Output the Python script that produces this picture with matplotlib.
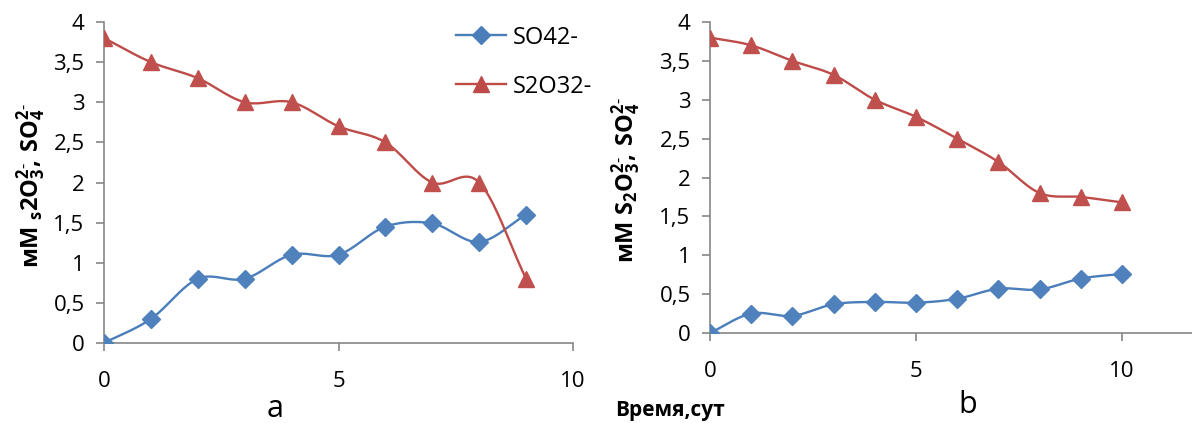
import numpy as np
import matplotlib
matplotlib.use("Agg")
import matplotlib.pyplot as plt

# время, сут
days_a = [0, 1, 2, 3, 4, 5, 6, 7, 8, 9]
days_b = [0, 1, 2, 3, 4, 5, 6, 7, 8, 9, 10]

# концентрации, мМ
so4_a = [0.0, 0.3, 0.8, 0.8, 1.1, 1.1, 1.45, 1.49, 1.26, 1.6]
s2o3_a = [3.8, 3.5, 3.3, 3.0, 3.0, 2.7, 2.5, 2.0, 2.0, 0.8]
so4_b = [0.0, 0.25, 0.22, 0.37, 0.4, 0.39, 0.44, 0.57, 0.56, 0.7, 0.76]
s2o3_b = [3.8, 3.7, 3.5, 3.32, 3.0, 2.78, 2.5, 2.2, 1.8, 1.75, 1.68]

series_names = ["SO42-", "S2O32-"]
yticks = [0, 0.5, 1, 1.5, 2, 2.5, 3, 3.5, 4]
ytick_labels = ["0", "0,5", "1", "1,5", "2", "2,5", "3", "3,5", "4"]

BLUE_LINE, BLUE_MARK = "#4A7EBB", "#4F81BD"
RED_LINE, RED_MARK = "#BE4B48", "#C0504D"
AXIS_GRAY = "#868686"

plt.rcParams["font.family"] = ["Open Sans", "DejaVu Sans"]
plt.rcParams["mathtext.fontset"] = "custom"
plt.rcParams["mathtext.rm"] = "Open Sans"
plt.rcParams["mathtext.bf"] = "Open Sans:bold"


def smooth(x, y, n=20):
    # сглаженная линия по Катмуллу-Рому через все точки
    x = np.asarray(x, float)
    y = np.asarray(y, float)
    px = np.concatenate([[2 * x[0] - x[1]], x, [2 * x[-1] - x[-2]]])
    py = np.concatenate([[2 * y[0] - y[1]], y, [2 * y[-1] - y[-2]]])
    xs, ys = [], []
    t = np.linspace(0, 1, n, endpoint=False)
    for i in range(1, len(px) - 2):
        for arr, out in ((px, xs), (py, ys)):
            p0, p1, p2, p3 = arr[i - 1], arr[i], arr[i + 1], arr[i + 2]
            out.extend(0.5 * (2 * p1 + (-p0 + p2) * t
                              + (2 * p0 - 5 * p1 + 4 * p2 - p3) * t ** 2
                              + (-p0 + 3 * p1 - 3 * p2 + p3) * t ** 3))
    xs.append(x[-1])
    ys.append(y[-1])
    return xs, ys


def draw(ax, days, so4, s2o3, xmax):
    sx, sy = smooth(days, so4)
    ax.plot(sx, sy, color=BLUE_LINE, lw=1.7, zorder=2)
    ax.plot(days, so4, ls="none", marker="D", ms=9, color=BLUE_MARK, zorder=3)
    tx, ty = smooth(days, s2o3)
    ax.plot(tx, ty, color=RED_LINE, lw=1.7, zorder=2)
    ax.plot(days, s2o3, ls="none", marker="^", ms=12, color=RED_MARK, zorder=3)

    ax.set_xlim(0, xmax)
    ax.set_ylim(0, 4)
    ax.set_xticks([0, 5, 10])
    ax.set_yticks(yticks)
    ax.set_yticklabels(ytick_labels)
    for side in ("top", "right"):
        ax.spines[side].set_visible(False)
    for side in ("left", "bottom"):
        ax.spines[side].set_color(AXIS_GRAY)
        ax.spines[side].set_linewidth(1.2)
    ax.tick_params(axis="both", colors=AXIS_GRAY, labelcolor="black",
                   labelsize=16, length=6, width=1.2, direction="out")
    ax.tick_params(axis="x", pad=14)
    ax.tick_params(axis="y", pad=8)
    for s in ax.spines.values():
        s.set_zorder(1)


fig = plt.figure(figsize=(11.92, 4.23), dpi=100)
ax_a = fig.add_axes([104 / 1192, 1 - 343 / 423, 469 / 1192, 321 / 423])
ax_b = fig.add_axes([710 / 1192, 1 - 333 / 423, 482 / 1192, 311 / 423])

draw(ax_a, days_a, so4_a, s2o3_a, 10)
draw(ax_b, days_b, so4_b, s2o3_b, 11.7)

# легенда на панели a
lines = ax_a.get_lines()
ax_a.legend([lines[1], lines[3]], series_names,
            loc="upper left", bbox_to_anchor=(0.731, 1.018), borderaxespad=0,
            frameon=False, fontsize=17, handlelength=2.1, labelspacing=1.06,
            handletextpad=0.3)
leg = ax_a.get_legend()
for h, c, m, ms in zip(leg.legend_handles, (BLUE_LINE, RED_LINE),
                       ("D", "^"), (9, 12)):
    h.set_linestyle("-")
    h.set_color(c)
    h.set_marker(m)
    h.set_markersize(ms)
    h.set_linewidth(1.7)

fig.text(31 / 1192, 1 - 186 / 423,
         r"мМ $\mathbf{_s2O_3^{2\text{-}}\!,\,SO_4^{2\text{-}}}$",
         rotation=90, ha="center", va="center", fontsize=17, fontweight="bold")
fig.text(626 / 1192, 1 - 180 / 423,
         r"мМ $\mathbf{S_2O_3^{2\text{-}}\!,\,SO_4^{2\text{-}}}$",
         rotation=90, ha="center", va="center", fontsize=17, fontweight="bold")

fig.text(275 / 1192, 1 - 409 / 423, "a", ha="center", va="center", fontsize=22)
fig.text(968 / 1192, 1 - 405 / 423, "b", ha="center", va="center", fontsize=22)
fig.text(670 / 1192, 1 - 410 / 423, "Время,сут", ha="center", va="center",
         fontsize=15, fontweight="bold")

fig.savefig("out.png", dpi=100)
